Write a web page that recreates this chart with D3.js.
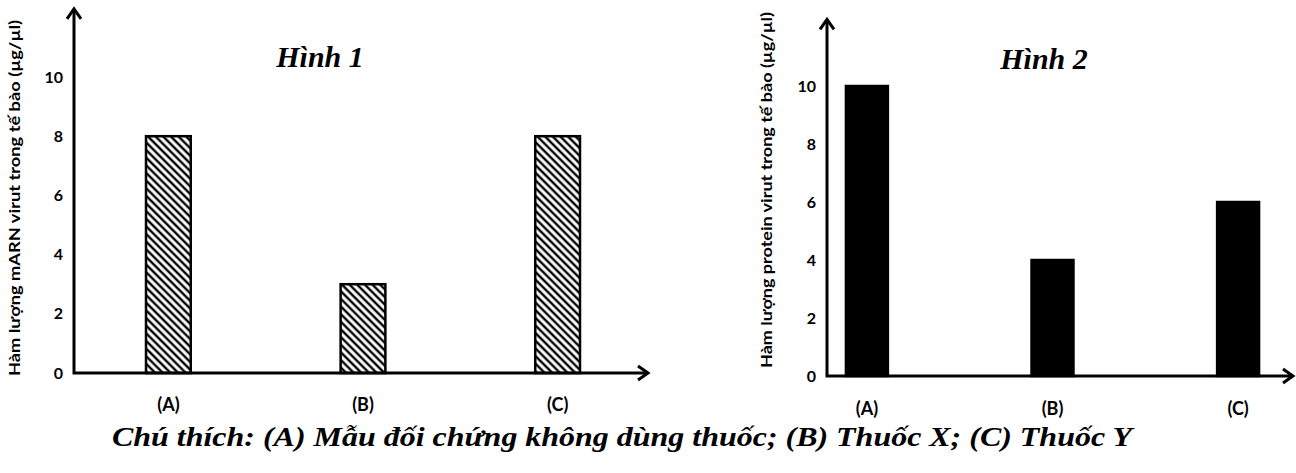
<!DOCTYPE html>
<html>
<head>
<meta charset="utf-8">
<script src="https://cdn.jsdelivr.net/npm/d3@7"></script>
<style>
  body { margin: 0; background: #fff; }
  .tick text { font-family: Lato, "Open Sans", sans-serif; font-weight: bold; }
  .cat { font-family: Lato, "Open Sans", sans-serif; font-weight: bold; font-size: 18px; }
  .ylab { font-family: Lato, "Open Sans", sans-serif; font-weight: bold; font-size: 15.5px; }
  .serif { font-family: "Liberation Serif", "Times New Roman", serif; font-weight: bold; font-style: italic; }
</style>
</head>
<body>
<div class="chart"></div>
<script>
var svgWidth = 1296;
var svgHeight = 473;

// data
var categories = ["(A)", "(B)", "(C)"];
var mrnaValues = [8, 3, 8];
var proteinValues = [10, 4, 6];
var yTicks = [0, 2, 4, 6, 8, 10];
var titles = ["Hình 1", "Hình 2"];
var yLabels = [
  "Hàm lượng mARN virut trong tế bào (µg/µl)",
  "Hàm lượng protein virut trong tế bào (µg/µl)"
];
var caption = "Chú thích: (A) Mẫu đối chứng không dùng thuốc; (B) Thuốc X; (C) Thuốc Y";

var svg = d3.select(".chart")
  .append("svg")
  .attr("width", svgWidth)
  .attr("height", svgHeight);

// hatch pattern for first chart
var defs = svg.append("defs");
defs.append("pattern")
  .attr("id", "hatch")
  .attr("patternUnits", "userSpaceOnUse")
  .attr("width", 8)
  .attr("height", 5.4)
  .attr("patternTransform", "rotate(45)")
  .append("line")
  .attr("x1", 0).attr("x2", 8)
  .attr("y1", 2.7).attr("y2", 2.7)
  .attr("stroke", "#000")
  .attr("stroke-width", 2.4);

// layout of each panel
var panels = [
  {
    values: mrnaValues, title: titles[0], ylabel: yLabels[0],
    axisX: 74, y0: 373, y10: 77, xEnd: 648, bandEnd: 652,
    padOuter: 0.37, padInner: 0.77, fill: "url(#hatch)",
    titleX: 320, titleY: 67, labX: 15, labY: 198, catY: 411
  },
  {
    values: proteinValues, title: titles[1], ylabel: yLabels[1],
    axisX: 827, y0: 376, y10: 86, xEnd: 1293, bandEnd: 1278,
    padOuter: 0.102, padInner: 0.774, fill: "#000",
    titleX: 1044, titleY: 69, labX: 767, labY: 190, catY: 415
  }
];

function drawPanel(p) {
  var g = svg.append("g");

  var yScale = d3.scaleLinear()
    .domain([0, 10])
    .range([p.y0, p.y10]);

  var xScale = d3.scaleBand()
    .domain(categories)
    .range([p.axisX, p.bandEnd])
    .paddingInner(p.padInner)
    .paddingOuter(p.padOuter);

  // bars
  g.selectAll("rect")
    .data(p.values)
    .enter()
    .append("rect")
    .attr("x", (d, i) => xScale(categories[i]))
    .attr("y", d => yScale(d))
    .attr("width", xScale.bandwidth())
    .attr("height", d => yScale(0) - yScale(d))
    .attr("fill", p.fill)
    .attr("stroke", "#000")
    .attr("stroke-width", 2.5);

  // y tick labels
  var leftAxis = d3.axisLeft(yScale)
    .tickValues(yTicks)
    .tickSize(0)
    .tickPadding(11);
  var ax = g.append("g")
    .attr("transform", `translate(${p.axisX}, 0)`)
    .call(leftAxis);
  ax.select(".domain").remove();
  ax.selectAll("text").attr("font-size", 16).attr("fill", "#000");

  // axis lines with arrows
  var topY = yScale(12.3);
  g.append("path")
    .attr("d", `M${p.axisX},${p.y0 + 1.5}V${topY}M${p.axisX - 1.5},${p.y0}H${p.xEnd}`)
    .attr("stroke", "#000")
    .attr("stroke-width", 3)
    .attr("fill", "none");
  g.append("path")
    .attr("d", `M${p.axisX - 7},${topY + 10}L${p.axisX},${topY}L${p.axisX + 7},${topY + 10}`)
    .attr("stroke", "#000").attr("stroke-width", 3).attr("fill", "none");
  g.append("path")
    .attr("d", `M${p.xEnd - 10},${p.y0 - 7}L${p.xEnd},${p.y0}L${p.xEnd - 10},${p.y0 + 7}`)
    .attr("stroke", "#000").attr("stroke-width", 3).attr("fill", "none");

  // category labels
  g.selectAll(".cat")
    .data(categories)
    .enter()
    .append("text")
    .attr("class", "cat")
    .attr("x", d => xScale(d) + xScale.bandwidth() / 2)
    .attr("y", p.catY)
    .attr("text-anchor", "middle")
    .text(d => d);

  // title
  g.append("text")
    .attr("class", "serif")
    .attr("x", p.titleX)
    .attr("y", p.titleY)
    .attr("text-anchor", "middle")
    .attr("font-size", 30)
    .text(p.title);

  // y label
  g.append("text")
    .attr("class", "ylab")
    .attr("transform", `translate(${p.labX}, ${p.labY}) rotate(-90)`)
    .attr("text-anchor", "middle")
    .attr("dy", "0.35em")
    .attr("textLength", 356)
    .attr("lengthAdjust", "spacingAndGlyphs")
    .text(p.ylabel);
}

panels.forEach(drawPanel);

// caption
svg.append("text")
  .attr("class", "serif")
  .attr("x", 622)
  .attr("y", 446)
  .attr("text-anchor", "middle")
  .attr("font-size", 28)
  .attr("textLength", 1020)
  .attr("lengthAdjust", "spacingAndGlyphs")
  .text(caption);
</script>
</body>
</html>
